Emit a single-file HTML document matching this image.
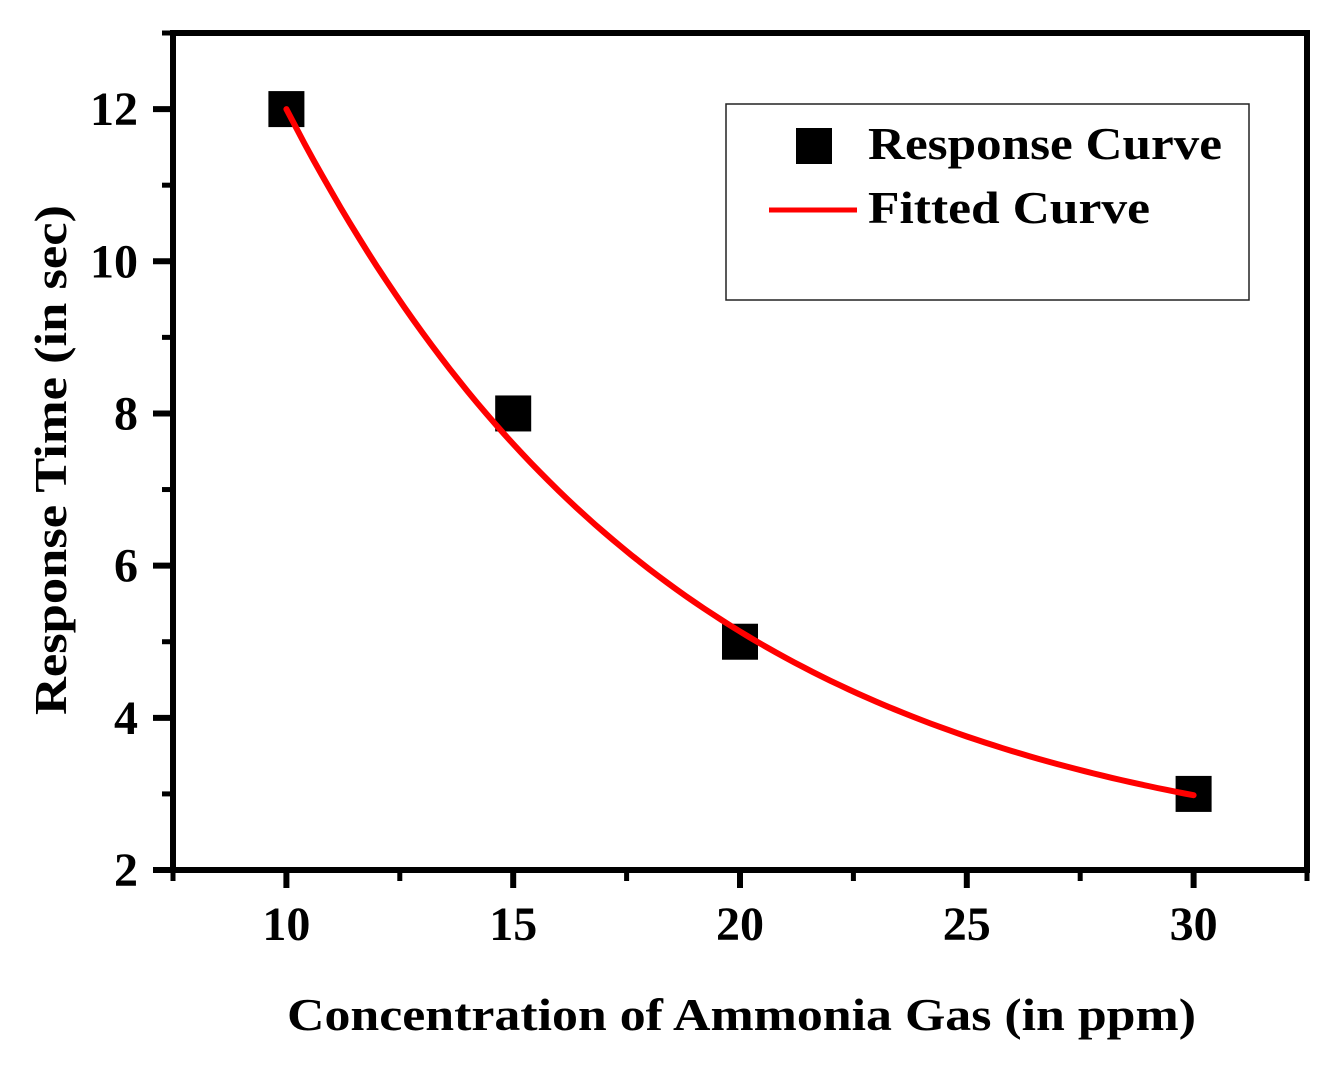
<!DOCTYPE html>
<html><head><meta charset="utf-8">
<style>
html,body{margin:0;padding:0;background:#fff;}
svg{display:block;font-family:"Liberation Serif",serif;font-weight:bold;}
</style></head>
<body>
<svg id="chart" width="1336" height="1069" viewBox="0 0 1336 1069" xmlns="http://www.w3.org/2000/svg">
<g id="axes"></g>
<g id="marks"></g>
<g>
<rect x="726" y="104" width="523" height="196" fill="#fff" stroke="#222" stroke-width="1.5"/>
<rect x="796" y="128" width="36" height="36" fill="#000"/>
<text x="868" y="159" font-size="46" textLength="354" lengthAdjust="spacingAndGlyphs">Response Curve</text>
<line x1="769" y1="210" x2="857" y2="210" stroke="#f00" stroke-width="5"/>
<text x="868" y="223" font-size="46" textLength="282" lengthAdjust="spacingAndGlyphs">Fitted Curve</text>
</g>
<text x="287" y="1030" font-size="46" textLength="909" lengthAdjust="spacingAndGlyphs">Concentration of Ammonia Gas (in ppm)</text>
<text transform="translate(66,715) rotate(-90)" font-size="46" textLength="510" lengthAdjust="spacingAndGlyphs">Response Time (in sec)</text>
</svg>
<script>
const xValues = [10, 15, 20, 30];
const yValues = [12, 8, 5, 3];
const xTicks = [10, 15, 20, 25, 30];
const yTicks = [2, 4, 6, 8, 10, 12];
const fitParams = [2.0, 10.0, 8.62]; // y0, A, t for y = y0 + A*exp(-(x-10)/t)

const L=173,R=1307,T=33,B=870;
const xMin=7.5,xMax=32.5,yMin=2,yMax=13;
const sx=v=>L+(v-xMin)/(xMax-xMin)*(R-L);
const sy=v=>B-(v-yMin)/(yMax-yMin)*(B-T);
const NS='http://www.w3.org/2000/svg';
function mk(tag,attrs,parent){const e=document.createElementNS(NS,tag);for(const k in attrs)e.setAttribute(k,attrs[k]);parent.appendChild(e);return e;}
const axes=document.getElementById('axes'),marks=document.getElementById('marks');

const frame=mk('rect',{x:L,y:T,width:R-L,height:B-T,fill:'none',stroke:'#000','stroke-width':6},axes);



xTicks.forEach(v=>{
  const t=mk('line',{x1:sx(v),x2:sx(v),y1:B,y2:B+18,stroke:'#000','stroke-width':6},axes);
  
  
  const m=mk('line',{x1:sx(v+2.5),x2:sx(v+2.5),y1:B,y2:B+11,stroke:'#000','stroke-width':5},axes);
  
  
  const lb=mk('text',{x:sx(v),y:B+70,'font-size':48,'text-anchor':'middle'},axes);
  lb.textContent=v;
  
  
});
const m0=mk('line',{x1:sx(7.5),x2:sx(7.5),y1:B,y2:B+11,stroke:'#000','stroke-width':5},axes);



yTicks.forEach(v=>{
  const t=mk('line',{x1:L-20,x2:L,y1:sy(v),y2:sy(v),stroke:'#000','stroke-width':6},axes);
  
  
  const m=mk('line',{x1:L-11,x2:L,y1:sy(v+1),y2:sy(v+1),stroke:'#000','stroke-width':5},axes);
  
  
  const lb=mk('text',{x:L-35,y:sy(v)+16,'font-size':48,'text-anchor':'end'},axes);
  lb.textContent=v;
  
  
});

xValues.forEach((x,i)=>{
  const r=mk('rect',{x:sx(x)-18,y:sy(yValues[i])-18,width:36,height:36,fill:'#000'},marks);
  
  
});

let d='';
const x0=xValues[0],x1=xValues[xValues.length-1];
for(let k=0;k<=100;k++){
  const x=x0+(x1-x0)*k/100;
  const y=fitParams[0]+fitParams[1]*Math.exp(-(x-10)/fitParams[2]);
  d+=(k?'L':'M')+sx(x).toFixed(1)+','+sy(y).toFixed(1);
}
const p=mk('path',{d:d,fill:'none',stroke:'#f00','stroke-width':6,'stroke-linecap':'round'},marks);


</script>
</body></html>
